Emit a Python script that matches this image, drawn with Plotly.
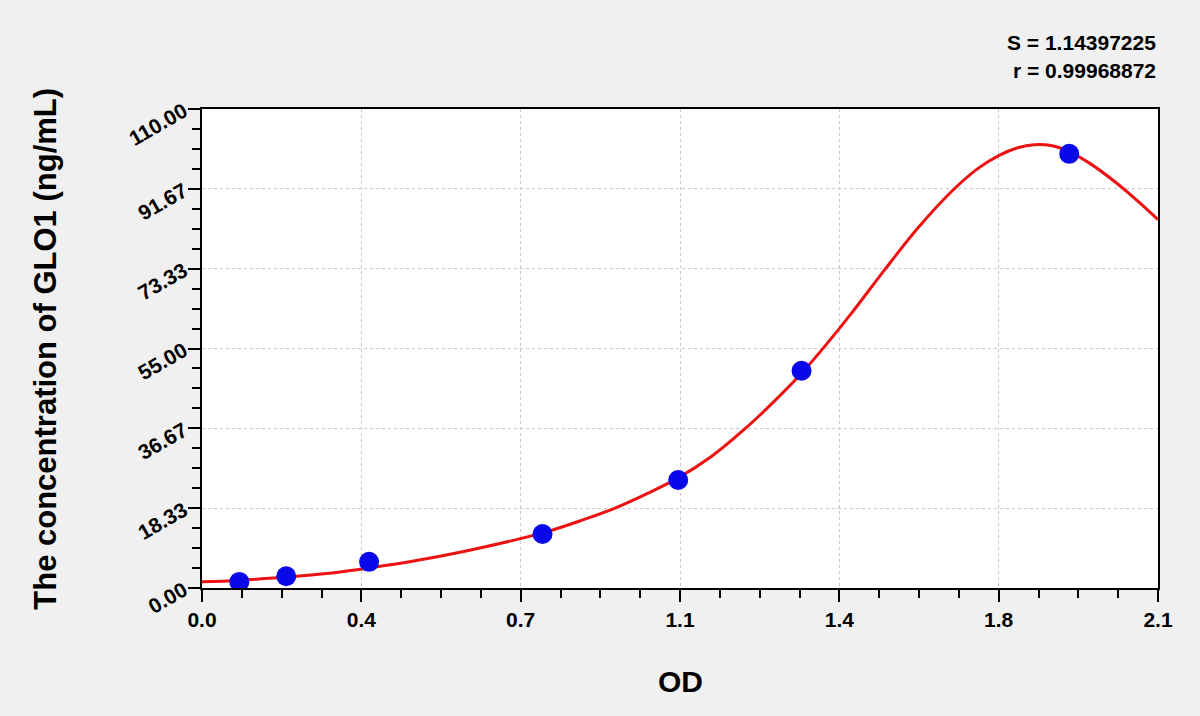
import plotly.graph_objects as go

# Standard points (OD, concentration)
od_points = [0.082, 0.185, 0.367, 0.748, 1.046, 1.317, 1.905]
conc_points = [1.4, 2.7, 6.0, 12.4, 24.8, 49.9, 99.7]

# Fitted curve
curve_od = [0.00, 0.08, 0.185, 0.28, 0.36, 0.465, 0.575, 0.686, 0.76, 0.833,
            0.906, 0.98, 1.046, 1.119, 1.191, 1.264, 1.322, 1.372, 1.426,
            1.499, 1.572, 1.646, 1.704, 1.75, 1.792, 1.828, 1.865, 1.909,
            1.952, 2.004, 2.055, 2.1]
curve_conc = [1.45, 1.75, 2.5, 3.4, 4.5, 6.2, 8.4, 11.0, 13.0, 15.5,
              18.3, 21.8, 25.3, 30.2, 36.4, 43.6, 49.9, 56.0, 63.0,
              73.0, 82.6, 91.0, 96.3, 99.3, 101.1, 101.8, 101.6, 100.0,
              97.4, 93.4, 88.9, 84.6]

x_tickvals = [0.0, 0.35, 0.7, 1.05, 1.4, 1.75, 2.1]
x_ticktext = ["0.0", "0.4", "0.7", "1.1", "1.4", "1.8", "2.1"]
y_tickvals = [0.0, 18.333, 36.667, 55.0, 73.333, 91.667, 110.0]
y_ticktext = ["0.00", "18.33", "36.67", "55.00", "73.33", "91.67", "110.00"]

stats_lines = ["S = 1.14397225", "r = 0.99968872"]
x_title = "OD"
y_title = "The concentration of GLO1 (ng/mL)"

FONT = "Liberation Sans, Arial, sans-serif"

fig = go.Figure()
fig.add_trace(go.Scatter(
    x=curve_od, y=curve_conc, mode="lines",
    line=dict(color="#ec1212", width=3, shape="spline", smoothing=1.0),
    hoverinfo="skip", showlegend=False))
fig.add_trace(go.Scatter(
    x=od_points, y=conc_points, mode="markers",
    marker=dict(color="#0808e8", size=20, line=dict(width=0)),
    showlegend=False))

axis_common = dict(
    showline=True, linecolor="black", linewidth=2, mirror=True,
    ticks="outside", ticklen=12, tickwidth=2, tickcolor="black",
    showgrid=True, gridcolor="#c8c8c8", gridwidth=1, griddash="dot",
    zeroline=False,
    tickfont=dict(family=FONT, size=21, color="black", weight="bold"),
)

fig.update_xaxes(
    range=[0, 2.1], tickmode="array", tickvals=x_tickvals, ticktext=x_ticktext,
    minor=dict(tick0=0, dtick=0.0875, ticklen=8, tickwidth=2,
               tickcolor="black", ticks="outside", showgrid=False),
    **axis_common)
fig.update_yaxes(
    range=[0, 110], tickmode="array", tickvals=y_tickvals, ticktext=y_ticktext,
    tickangle=-30,
    minor=dict(tick0=0, dtick=110 / 24, ticklen=8, tickwidth=2,
               tickcolor="black", ticks="outside", showgrid=False),
    **axis_common)

annotations = [
    dict(text=x_title, xref="paper", yref="paper", x=0.5, y=-0.196,
         xanchor="center", yanchor="middle", showarrow=False,
         font=dict(family=FONT, size=30, color="black", weight="bold")),
    dict(text=y_title, xref="paper", yref="paper", x=-0.164, y=0.5,
         xanchor="center", yanchor="middle", showarrow=False, textangle=-90,
         font=dict(family=FONT, size=31, color="black", weight="bold")),
]
for i, line in enumerate(stats_lines):
    annotations.append(dict(
        text=line, xref="paper", yref="paper", x=1.0, y=(588 - 42 - 28 * i) / 479,
        xanchor="right", yanchor="middle", showarrow=False,
        font=dict(family=FONT, size=21, color="black", weight="bold")))

fig.update_layout(
    width=1200, height=716,
    paper_bgcolor="#f0f0f0", plot_bgcolor="white",
    margin=dict(l=202, r=42, t=109, b=128, pad=0),
    annotations=annotations,
    showlegend=False,
)

fig.write_html("out.html", config={"displayModeBar": False},
               post_script="document.body.style.margin='0';document.body.style.padding='0';")
